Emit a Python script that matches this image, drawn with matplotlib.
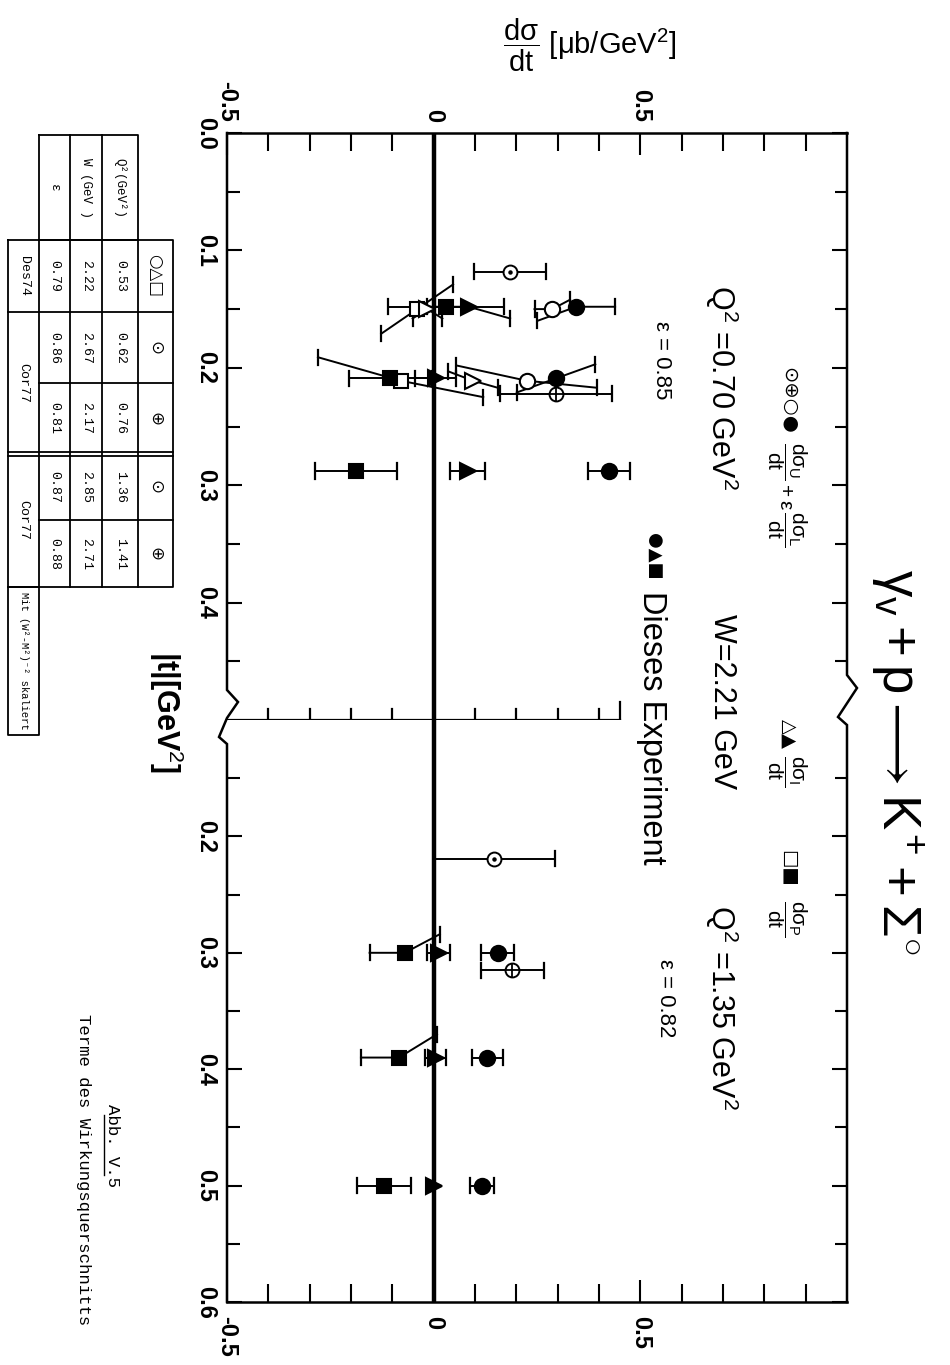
import numpy as np
import matplotlib
matplotlib.use('Agg')
import matplotlib.pyplot as plt

plt.rcParams['font.family'] = ['Liberation Sans', 'DejaVu Sans']
plt.rcParams['mathtext.fontset'] = 'custom'
plt.rcParams['mathtext.rm'] = 'Liberation Sans'
plt.rcParams['mathtext.it'] = 'Liberation Sans'
plt.rcParams['mathtext.bf'] = 'Liberation Sans:bold'

# ---------------- data: Q^2 = 0.70 GeV^2 (upper panel) ----------------
# this experiment, |t| in GeV^2, cross sections in mub/GeV^2
up_t = [0.148, 0.209, 0.288]
up_u_val = [0.345, 0.296, 0.424]      # dsU/dt + eps dsL/dt
up_u_err = [0.094, 0.095, 0.051]
up_u_lean = [(0.012, 0.0), (0.012, -0.012), (0.0, 0.0)]
up_i_val = [0.085, 0.005, 0.082]      # dsI/dt
up_i_err = [0.10, 0.05, 0.043]
up_i_lean = [(0.0, 0.010), (0.0, 0.0), (0.0, 0.0)]
up_p_val = [0.03, -0.105, -0.188]     # dsP/dt
up_p_err = [0.14, 0.10, 0.099]

# Des74, Q^2 = 0.53
des_t = [0.150, 0.211]
des_u_val = [0.287, 0.225]
des_u_err = [0.043, 0.17]
des_u_lean = [(0.0, -0.008), (-0.013, 0.006)]
des_i_val = [-0.015, 0.095]
des_i_err = [0.036, 0.06]
des_i_lean = [(0.008, 0.008), (-0.008, 0.006)]
des_p_val = [-0.04, -0.08]
des_p_err = [0.087, 0.20]
des_p_lean = [(0.021, -0.021), (-0.02, 0.014)]

# Cor77, Q^2 = 0.62 (odot) and 0.76 (oplus)
cor_up_odot = (0.118, 0.185, 0.087)
cor_up_oplus = (0.222, 0.296, 0.135)

# ---------------- data: Q^2 = 1.35 GeV^2 (lower panel) ----------------
lo_t = [0.30, 0.39, 0.50]
lo_u_val = [0.155, 0.13, 0.118]
lo_u_err = [0.04, 0.037, 0.029]
lo_i_val = [0.012, 0.005, 0.0]
lo_i_err = [0.028, 0.025, 0.0]
lo_p_val = [-0.07, -0.084, -0.12]
lo_p_err = [0.085, 0.092, 0.065]
lo_p_lean = [(0.0, -0.016), (0.0, -0.02), (0.0, 0.0)]

# Cor77, Q^2 = 1.36 (odot) and 1.41 (oplus)
cor_lo_odot = (0.219, 0.147, 0.147)
cor_lo_oplus = (0.315, 0.19, 0.076)

# ---------------- table ----------------
tab_syms = ['○△□', '⊙', '⊕', '⊙', '⊕']
tab_q2 = ['0.53', '0.62', '0.76', '1.36', '1.41']
tab_w = ['2.22', '2.67', '2.17', '2.85', '2.71']
tab_eps = ['0.79', '0.86', '0.81', '0.87', '0.88']
tab_refs = [('Des74', 0, 1), ('Cor77', 1, 3), ('Cor77', 3, 5)]

W, H = 950, 1365
fig = plt.figure(figsize=(W / 100, H / 100), dpi=100)


def box(x0, y0, x1, y1):
    return [x0 / W, 1 - y1 / H, (x1 - x0) / W, (y1 - y0) / H]


ax_up = fig.add_axes(box(227, 133, 847, 720))
ax_lo = fig.add_axes(box(227, 720, 847, 1302))
ax_up.set_xlim(-0.5, 1.0)
ax_up.set_ylim(0.5, 0.0)
ax_lo.set_xlim(-0.5, 1.0)
ax_lo.set_ylim(0.6, 0.1)

tick_font = dict(fontsize=17, fontweight='bold')
minor_x = [v for v in np.round(np.arange(-0.4, 1.0, 0.1), 2) if v not in (0.0, 0.5)]

for ax in (ax_up, ax_lo):
    for s in ('left', 'right', 'top', 'bottom'):
        ax.spines[s].set_visible(False)
    ax.axvline(0, color='k', lw=3.2, zorder=1)
    ax.set_xticks([-0.5, 0, 0.5], labels=['-0.5', '0', '0.5'], **tick_font)
    ax.set_xticks(minor_x, minor=True)
    ax.tick_params(axis='x', which='both', direction='in', width=1.5,
                   labelrotation=270)
    ax.tick_params(axis='x', which='major', length=16)
    ax.tick_params(axis='x', which='minor', length=13)
    ax.tick_params(axis='y', which='both', direction='in', width=1.5,
                   left=True, right=True, labelrotation=270, pad=7)
    ax.tick_params(axis='y', which='major', length=11)
    ax.tick_params(axis='y', which='minor', length=9)

ax_up.spines['top'].set_visible(True)
ax_up.spines['top'].set_linewidth(1.8)
ax_up.tick_params(axis='x', which='both', top=True, bottom=False,
                  labeltop=True, labelbottom=False, pad=8)
ax_up.set_yticks(np.arange(0, 0.45, 0.1), labels=['0.0', '0.1', '0.2', '0.3', '0.4'], **tick_font)
ax_up.set_yticks(np.arange(0.05, 0.5, 0.1), minor=True)

ax_lo.spines['bottom'].set_visible(True)
ax_lo.spines['bottom'].set_linewidth(1.8)
ax_lo.tick_params(axis='x', which='both', top=False, bottom=True,
                  labeltop=False, labelbottom=True, pad=10)
ax_lo.set_yticks(np.arange(0.2, 0.65, 0.1), labels=['0.2', '0.3', '0.4', '0.5', '0.6'], **tick_font)
ax_lo.set_yticks(np.arange(0.15, 0.6, 0.1), minor=True)

for ax in (ax_up, ax_lo):
    for lab in ax.get_yticklabels():
        lab.set_va('center')

# horizontal break line across the panel, with crossing ticks
ax_up.plot([-0.5, 0.45], [0.5, 0.5], color='k', lw=1.6, clip_on=False, zorder=1)
for x in np.arange(-0.4, 0.45, 0.1):
    ax_up.plot([x, x], [0.491, 0.509], color='k', lw=1.6, clip_on=False, zorder=1)
ax_up.plot([0.45, 0.45], [0.485, 0.515], color='k', lw=1.6, clip_on=False, zorder=1)


def err_bar(ax, t, v, e, lean=(0.0, 0.0)):
    if e <= 0:
        return
    tl, tr = lean
    ax.plot([v - e, v, v + e], [t + tl, t, t + tr], color='k', lw=1.4, zorder=2)
    for x, tt in ((v - e, t + tl), (v + e, t + tr)):
        ax.plot([x, x], [tt - 0.0065, tt + 0.0065], color='k', lw=1.6, zorder=2)


def series(ax, t, vals, errs, marker, filled, leans=None, ms=11):
    if leans is None:
        leans = [(0.0, 0.0)] * len(t)
    for ti, v, e, ln in zip(t, vals, errs, leans):
        err_bar(ax, ti, v, e, ln)
    ax.plot(vals, t, ls='none', marker=marker, ms=ms, mew=1.5, mec='k',
            mfc='k' if filled else 'white', zorder=4)


def cor_point(ax, pt, kind):
    t, v, e = pt
    err_bar(ax, t, v, e)
    ax.plot([v], [t], ls='none', marker='o', ms=10, mew=1.4, mec='k', mfc='white', zorder=4)
    if kind == 'odot':
        ax.plot([v], [t], ls='none', marker='o', ms=2.2, color='k', zorder=5)
    else:
        ax.plot([v], [t], ls='none', marker='+', ms=10, mew=1.3, color='k', zorder=5)


# upper panel
series(ax_up, des_t, des_p_val, des_p_err, 's', False, des_p_lean, ms=10)
series(ax_up, des_t, des_i_val, des_i_err, '>', False, des_i_lean, ms=11)
series(ax_up, des_t, des_u_val, des_u_err, 'o', False, des_u_lean, ms=11)
cor_point(ax_up, cor_up_odot, 'odot')
cor_point(ax_up, cor_up_oplus, 'oplus')
series(ax_up, up_t, up_p_val, up_p_err, 's', True, ms=10)
series(ax_up, up_t, up_i_val, up_i_err, '>', True, up_i_lean, ms=11)
series(ax_up, up_t, up_u_val, up_u_err, 'o', True, up_u_lean, ms=11)

# lower panel
cor_point(ax_lo, cor_lo_odot, 'odot')
cor_point(ax_lo, cor_lo_oplus, 'oplus')
series(ax_lo, lo_t, lo_p_val, lo_p_err, 's', True, lo_p_lean, ms=10)
series(ax_lo, lo_t, lo_i_val, lo_i_err, '>', True, ms=11)
series(ax_lo, lo_t, lo_u_val, lo_u_err, 'o', True, ms=11)

# ---------------- page overlay in pixel units ----------------
page = fig.add_axes([0, 0, 1, 1])
page.set_xlim(0, W)
page.set_ylim(H, 0)
page.axis('off')
page.patch.set_alpha(0)

# frame sides with break marks
left_side = [(227, 133), (227, 690), (238, 702), (227, 718), (219, 737), (227, 744), (227, 1302)]
right_side = [(847, 133), (847, 675), (857, 688), (838, 717), (847, 725), (847, 1302)]
for side in (left_side, right_side):
    xs, ys = zip(*side)
    page.plot(xs, ys, color='k', lw=1.8, solid_joinstyle='miter')

rot = dict(rotation=270, ha='center', va='center')
sym_font = ['DejaVu Sans']
page.text(897, 762, r'$\gamma_v + p \longrightarrow K^{+} + \Sigma^{\circ}$', fontsize=38, **rot)
page.text(590, 45, r'$\dfrac{d\sigma}{dt}$ [μb/GeV$^2$]', fontsize=21, ha='center', va='center')
page.text(166, 712, '|t|[GeV$^2$]', fontsize=22, fontweight='bold', **rot)

# component labels
page.text(789, 400, '⊙⊕○●', fontsize=14, family=sym_font, **rot)
page.text(787, 494, r'$\dfrac{d\sigma_U}{dt} + \varepsilon\,\dfrac{d\sigma_L}{dt}$', fontsize=15, **rot)
page.text(789, 734, '△▲', fontsize=14, family=sym_font, **rot)
page.text(787, 771, r'$\dfrac{d\sigma_I}{dt}$', fontsize=15, **rot)
page.text(789, 868, '□■', fontsize=14, family=sym_font, **rot)
page.text(787, 918, r'$\dfrac{d\sigma_P}{dt}$', fontsize=15, **rot)

page.text(722, 388, 'Q$^2$ =0.70 GeV$^2$', fontsize=22, **rot)
page.text(661, 360, 'ε = 0.85', fontsize=16, **rot)
page.text(722, 702, 'W=2.21 GeV', fontsize=22, **rot)
page.text(722, 1008, 'Q$^2$ =1.35 GeV$^2$', fontsize=22, **rot)
page.text(666, 998, 'ε = 0.82', fontsize=16, **rot)
page.text(653, 556, '●▲■', fontsize=13, family=sym_font, **rot)
page.text(652, 728, 'Dieses Experiment', fontsize=23.5, **rot)

# reference table
mono = ['Liberation Mono', 'DejaVu Sans Mono']
strip_x = [8, 39, 70, 102, 138, 173]        # ref | eps | W | Q2 | symbol
col_y = [240, 312, 383, 454, 520, 587]
lk = dict(color='k', lw=1.3)
page.plot([39, 138, 138, 39, 39], [135, 135, 240, 240, 135], **lk)
for x in (70, 102):
    page.plot([x, x], [135, 240], **lk)
page.plot([8, 173, 173, 8, 8], [240, 240, 587, 587, 240], **lk)
for x in strip_x[1:-1]:
    page.plot([x, x], [240, 587], **lk)
page.plot([8, 173], [312, 312], **lk)
page.plot([39, 173], [383, 383], **lk)
page.plot([8, 173], [452, 452], **lk)
page.plot([8, 173], [456, 456], **lk)
page.plot([39, 173], [520, 520], **lk)
page.plot([8, 39, 39, 8, 8], [587, 587, 735, 735, 587], **lk)

page.text(54, 188, 'ε', fontsize=9, family=mono, **rot)
page.text(86, 188, 'W (GeV )', fontsize=9, family=mono, **rot)
page.text(120, 188, 'Q²(GeV²)', fontsize=9, family=mono, **rot)
for i in range(5):
    yc = (col_y[i] + col_y[i + 1]) / 2
    page.text(155.5, yc, tab_syms[i], fontsize=12, family=sym_font, **rot)
    page.text(120, yc, tab_q2[i], fontsize=9.5, family=mono, **rot)
    page.text(86, yc, tab_w[i], fontsize=9.5, family=mono, **rot)
    page.text(54.5, yc, tab_eps[i], fontsize=9.5, family=mono, **rot)
for name, c0, c1 in tab_refs:
    page.text(23.5, (col_y[c0] + col_y[c1]) / 2, name, fontsize=9.5, family=mono, **rot)
page.text(23.5, 661, 'Mit (W²-M²)⁻² skaliert', fontsize=7.6, family=mono, **rot)

# figure caption
page.text(112, 1145, 'Abb. V.5', fontsize=12.5, family=mono, **rot)
page.plot([104, 104], [1115, 1175], color='k', lw=1.0)
page.text(83, 1170, 'Terme des Wirkungsquerschnitts', fontsize=12.5, family=mono, **rot)

fig.savefig('out.png', dpi=100)
